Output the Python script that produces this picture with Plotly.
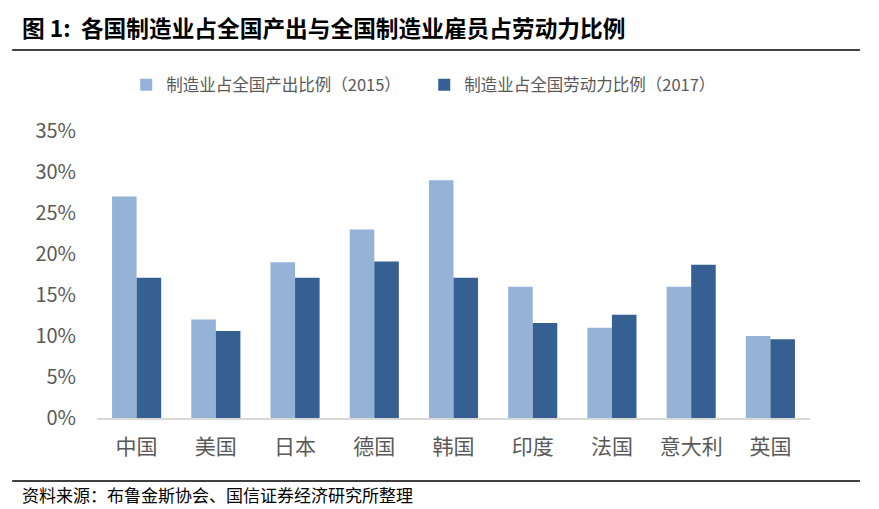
import plotly.graph_objects as go

countries = ["中国", "美国", "日本", "德国", "韩国", "印度", "法国", "意大利", "英国"]
output_share_2015 = [0.27, 0.12, 0.19, 0.23, 0.29, 0.16, 0.11, 0.16, 0.10]
labor_share_2017 = [0.171, 0.106, 0.171, 0.191, 0.171, 0.116, 0.126, 0.187, 0.096]

name_output = "制造业占全国产出比例（2015）"
name_labor = "制造业占全国劳动力比例（2017）"
title_text = "图 1:  各国制造业占全国产出与全国制造业雇员占劳动力比例"
source_text = "资料来源：布鲁金斯协会、国信证券经济研究所整理"

FONT = "Noto Sans CJK SC"
GREY = "#595959"

fig = go.Figure()
fig.add_trace(go.Bar(x=countries, y=output_share_2015, name=name_output,
                     marker=dict(color="#95b3d7", line=dict(width=0))))
fig.add_trace(go.Bar(x=countries, y=labor_share_2017, name=name_labor,
                     marker=dict(color="#366092", line=dict(width=0))))

# header / footer rules
for py in (1.4355, 1.282, -0.2195):
    fig.add_shape(type="line", xref="paper", yref="paper",
                  x0=-0.119, x1=1.07, y0=py, y1=py,
                  line=dict(color="black", width=1.5))

fig.add_annotation(text=f"<b>{title_text}</b>", xref="paper", yref="paper",
                   x=-0.108, y=1.362, xanchor="left", yanchor="middle",
                   showarrow=False, font=dict(family=FONT, size=22.7, color="black"))
fig.add_annotation(text=source_text, xref="paper", yref="paper",
                   x=-0.108, y=-0.265, xanchor="left", yanchor="middle",
                   showarrow=False, font=dict(family=FONT, size=17, color="black"))

# page body has an 8px margin, so the figure is 8px smaller than the window
fig.update_layout(
    width=871, height=501,
    margin=dict(l=89, r=69, t=123, b=91),
    paper_bgcolor="white", plot_bgcolor="white",
    barmode="group", bargap=0.38, bargroupgap=0,
    font=dict(family=FONT, color=GREY),
    showlegend=True,
    legend=dict(orientation="h", x=0.041, y=1.16, xanchor="left", yanchor="middle",
                font=dict(family=FONT, size=16.5, color=GREY),
                entrywidth=253),
    xaxis=dict(showline=True, linecolor="#d9d9d9", linewidth=2,
               ticks="", tickfont=dict(size=21, color=GREY),
               ticklabelstandoff=9, fixedrange=True),
    yaxis=dict(range=[0, 0.35], dtick=0.05, tickformat=".0%",
               showgrid=False, zeroline=False, showline=False,
               tickfont=dict(size=20, color=GREY),
               ticklabelstandoff=20),
)

fig.write_html("out.html")
